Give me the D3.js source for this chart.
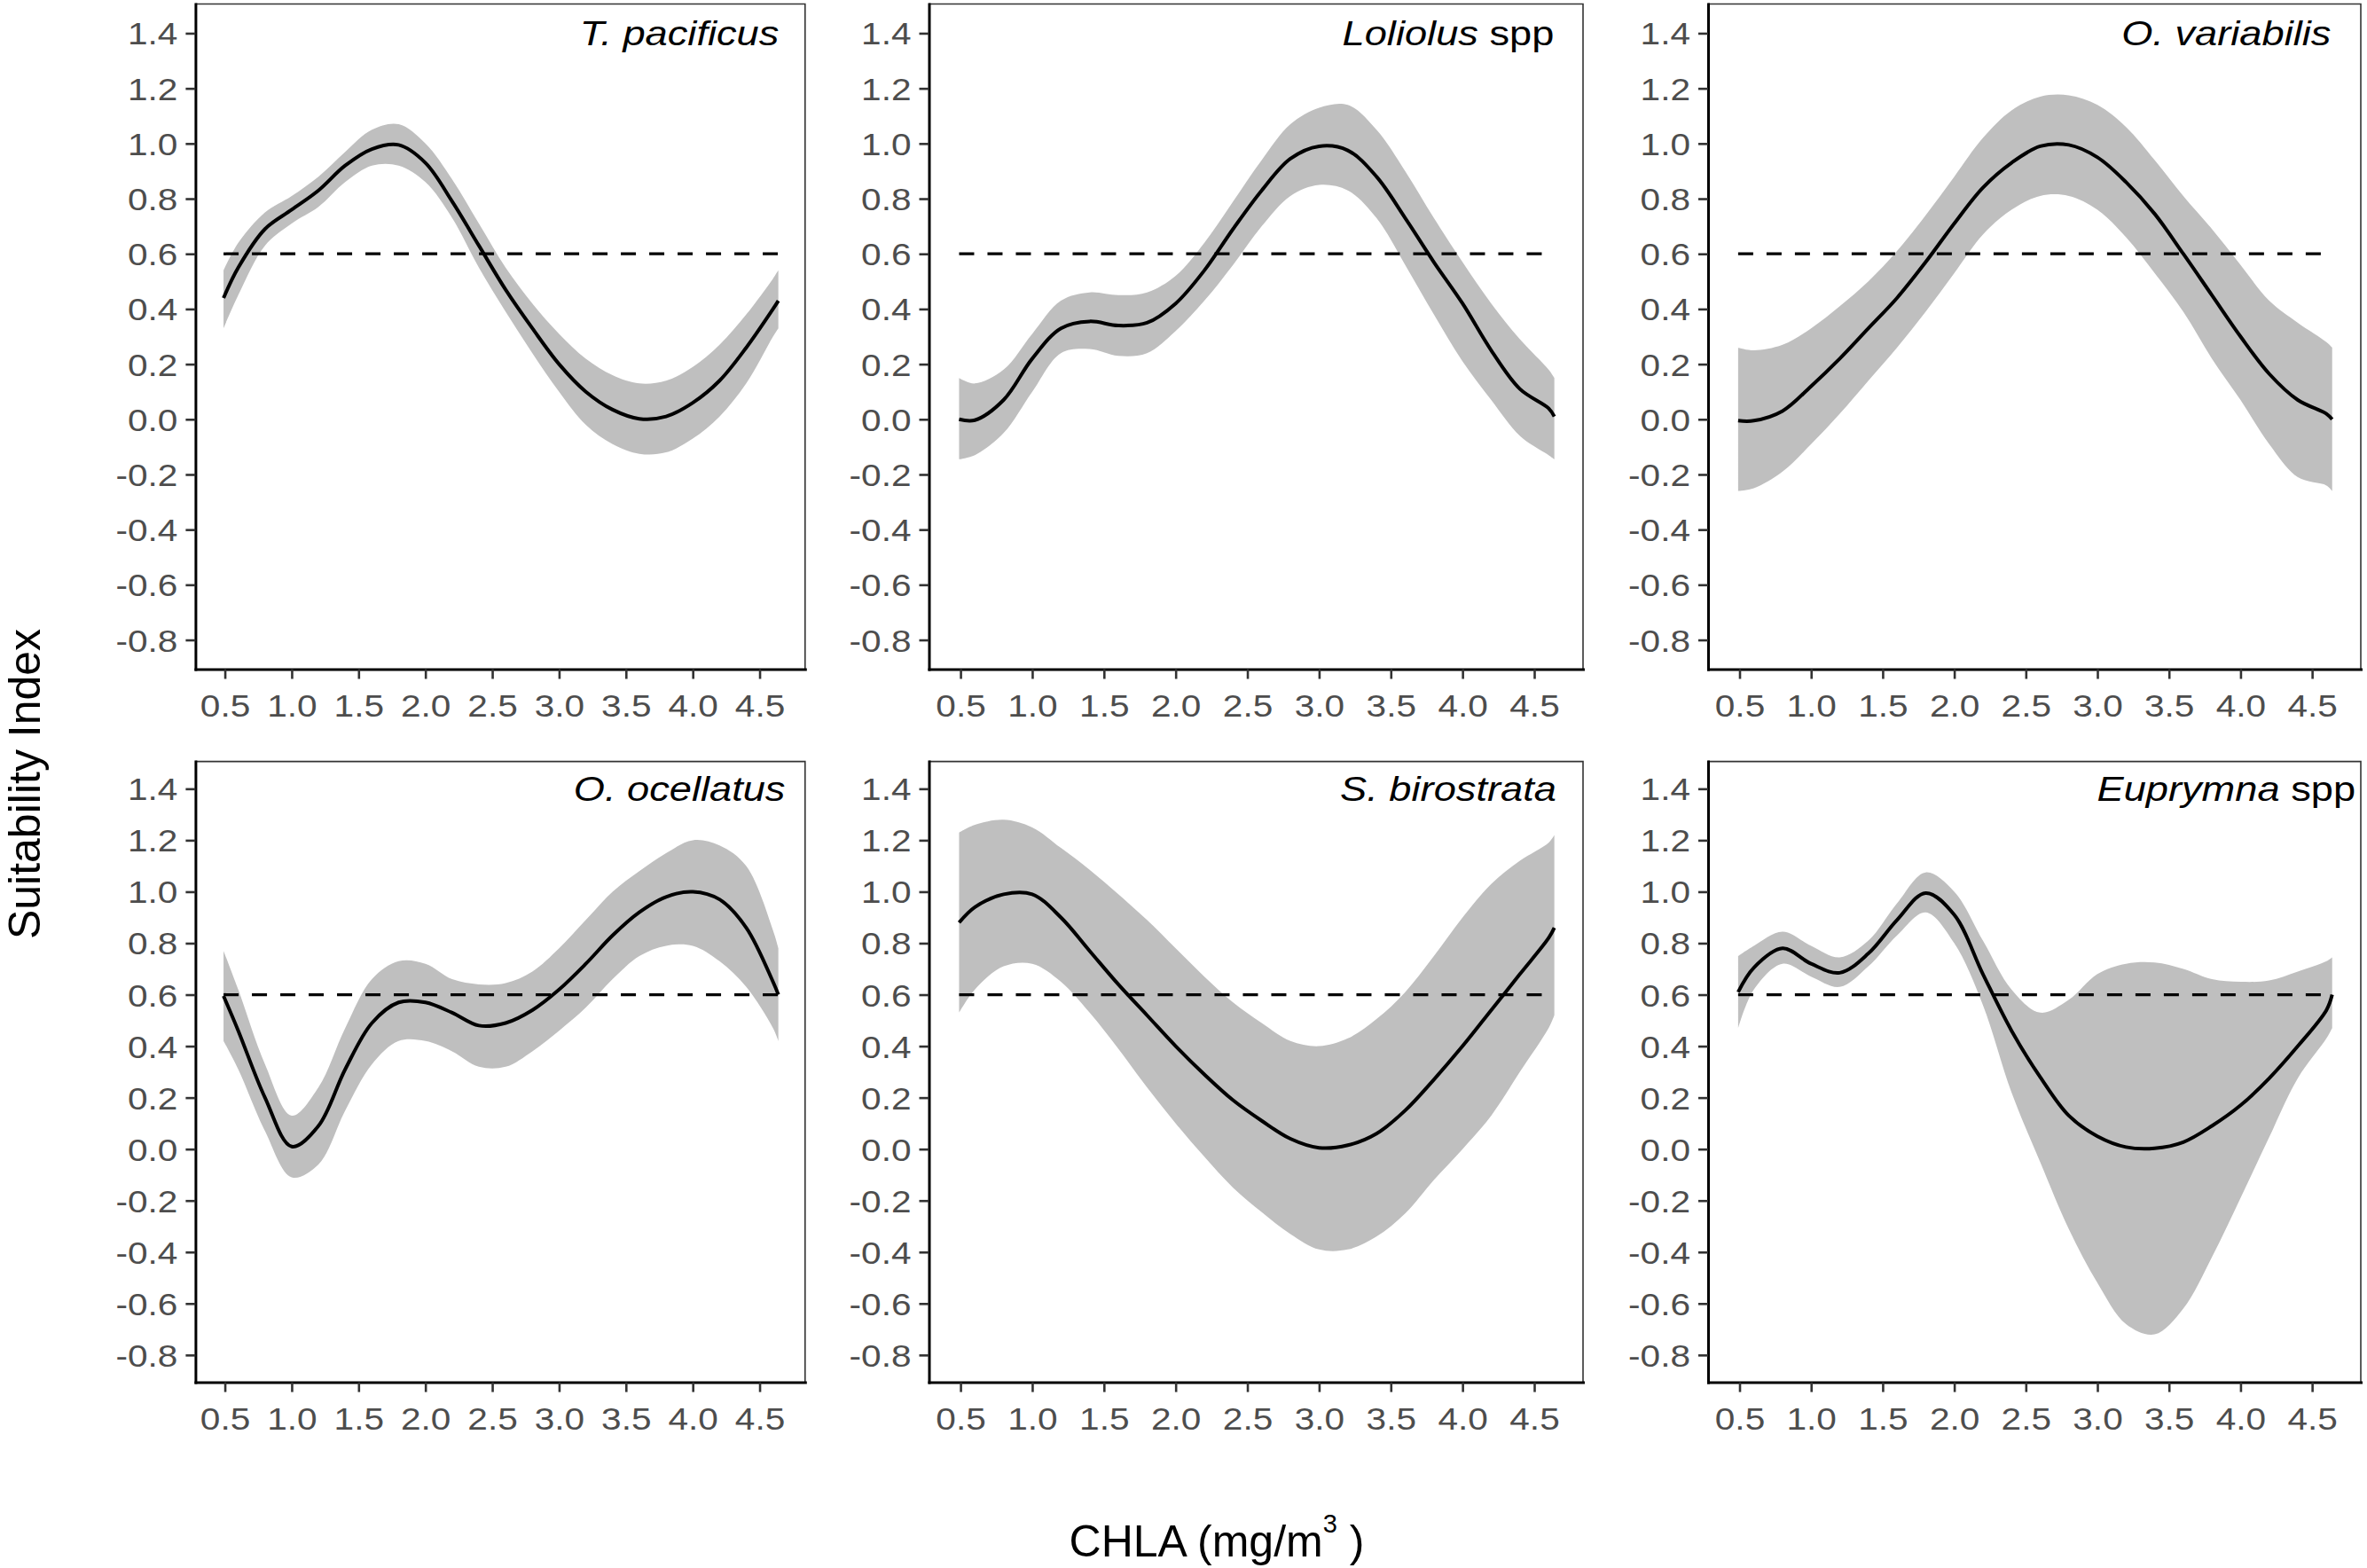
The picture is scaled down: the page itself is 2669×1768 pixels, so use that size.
<!DOCTYPE html>
<html>
<head>
<meta charset="utf-8">
<script src="https://cdn.jsdelivr.net/npm/d3@7"></script>
<style>
  body { margin: 0; background: #fff; }
  svg { display: block; }
  text { font-family: "Liberation Sans", Arial, sans-serif; }
</style>
</head>
<body>
<svg id="chart" width="2669" height="1768"></svg>
<script>
// CHLA values the curves were read at (mg/m3)
const chla = [0.49, 0.6, 0.8, 1.0, 1.2, 1.4, 1.6, 1.8, 2.0, 2.2, 2.4, 2.6, 2.8, 3.0, 3.2, 3.4, 3.6, 3.8, 4.0, 4.2, 4.4, 4.6, 4.64];

const xTicks = [0.5, 1.0, 1.5, 2.0, 2.5, 3.0, 3.5, 4.0, 4.5];
const yTicks = [-0.8, -0.6, -0.4, -0.2, 0.0, 0.2, 0.4, 0.6, 0.8, 1.0, 1.2, 1.4];
const threshold = 0.6;

// species name: [italic part, plain part]
const speciesNames = [
  ["T. pacificus", ""],
  ["Loliolus", " spp"],
  ["O. variabilis", ""],
  ["O. ocellatus", ""],
  ["S. birostrata", ""],
  ["Euprymna", " spp"]
];

// T. pacificus
const fitTP = [0.44, 0.55, 0.69, 0.76, 0.83, 0.92, 0.98, 0.995, 0.93, 0.79, 0.63, 0.47, 0.33, 0.20, 0.10, 0.035, 0.002, 0.01, 0.06, 0.14, 0.26, 0.40, 0.43];
const upTP  = [0.54, 0.64, 0.75, 0.81, 0.88, 0.97, 1.05, 1.07, 1.00, 0.87, 0.71, 0.55, 0.42, 0.31, 0.22, 0.16, 0.13, 0.14, 0.19, 0.27, 0.38, 0.51, 0.54];
const loTP  = [0.33, 0.45, 0.63, 0.71, 0.77, 0.86, 0.92, 0.92, 0.86, 0.73, 0.55, 0.39, 0.24, 0.10, -0.02, -0.09, -0.125, -0.12, -0.07, 0.01, 0.13, 0.30, 0.33];

// Loliolus spp
const fitLS = [0.0, -0.003, 0.07, 0.22, 0.33, 0.355, 0.34, 0.35, 0.42, 0.54, 0.69, 0.83, 0.945, 0.99, 0.975, 0.88, 0.73, 0.57, 0.42, 0.25, 0.11, 0.04, 0.01];
const upLS  = [0.15, 0.13, 0.18, 0.31, 0.43, 0.46, 0.45, 0.46, 0.52, 0.64, 0.79, 0.94, 1.07, 1.13, 1.14, 1.05, 0.90, 0.73, 0.57, 0.42, 0.29, 0.18, 0.15];
const loLS  = [-0.145, -0.13, -0.05, 0.10, 0.24, 0.255, 0.23, 0.24, 0.32, 0.43, 0.56, 0.70, 0.81, 0.85, 0.83, 0.73, 0.56, 0.38, 0.21, 0.07, -0.06, -0.13, -0.145];

// O. variabilis
const fitOV = [-0.005, -0.005, 0.03, 0.12, 0.22, 0.33, 0.44, 0.57, 0.71, 0.84, 0.93, 0.99, 0.995, 0.95, 0.86, 0.745, 0.60, 0.45, 0.30, 0.165, 0.07, 0.02, 0.0];
const upOV  = [0.26, 0.25, 0.27, 0.33, 0.41, 0.50, 0.61, 0.74, 0.88, 1.02, 1.12, 1.17, 1.175, 1.14, 1.06, 0.94, 0.81, 0.69, 0.56, 0.43, 0.35, 0.28, 0.26];
const loOV  = [-0.26, -0.25, -0.19, -0.09, 0.02, 0.14, 0.26, 0.39, 0.53, 0.67, 0.76, 0.81, 0.81, 0.76, 0.66, 0.53, 0.39, 0.22, 0.07, -0.09, -0.21, -0.24, -0.26];

// O. ocellatus
const fitOO = [0.595, 0.46, 0.20, 0.01, 0.09, 0.31, 0.49, 0.57, 0.57, 0.53, 0.48, 0.49, 0.54, 0.62, 0.72, 0.83, 0.92, 0.98, 1.0, 0.97, 0.86, 0.65, 0.60];
const upOO  = [0.77, 0.62, 0.33, 0.13, 0.24, 0.47, 0.66, 0.73, 0.72, 0.66, 0.64, 0.645, 0.69, 0.78, 0.89, 1.00, 1.08, 1.15, 1.20, 1.18, 1.10, 0.85, 0.78];
const loOO  = [0.42, 0.31, 0.07, -0.11, -0.06, 0.15, 0.33, 0.42, 0.42, 0.38, 0.32, 0.32, 0.38, 0.46, 0.55, 0.66, 0.75, 0.79, 0.79, 0.73, 0.63, 0.47, 0.42];

// S. birostrata
const fitSB = [0.88, 0.94, 0.99, 0.99, 0.90, 0.77, 0.64, 0.52, 0.40, 0.29, 0.19, 0.11, 0.04, 0.005, 0.015, 0.06, 0.15, 0.27, 0.40, 0.54, 0.68, 0.82, 0.86];
const upSB  = [1.23, 1.26, 1.28, 1.25, 1.17, 1.085, 0.99, 0.89, 0.78, 0.67, 0.57, 0.49, 0.42, 0.40, 0.43, 0.505, 0.61, 0.75, 0.90, 1.03, 1.12, 1.19, 1.22];
const loSB  = [0.53, 0.62, 0.71, 0.72, 0.65, 0.53, 0.39, 0.24, 0.10, -0.03, -0.15, -0.245, -0.33, -0.39, -0.39, -0.34, -0.25, -0.12, 0.0, 0.13, 0.30, 0.47, 0.52];

// Euprymna spp
const fitES = [0.61, 0.705, 0.78, 0.72, 0.685, 0.76, 0.89, 0.995, 0.91, 0.68, 0.46, 0.28, 0.13, 0.05, 0.008, 0.003, 0.027, 0.09, 0.17, 0.275, 0.40, 0.54, 0.60];
const upES  = [0.75, 0.79, 0.845, 0.79, 0.745, 0.81, 0.955, 1.075, 1.0, 0.81, 0.62, 0.53, 0.58, 0.68, 0.72, 0.725, 0.70, 0.66, 0.65, 0.655, 0.69, 0.73, 0.745];
const loES  = [0.47, 0.62, 0.72, 0.67, 0.63, 0.71, 0.83, 0.92, 0.80, 0.56, 0.22, -0.05, -0.31, -0.52, -0.68, -0.72, -0.62, -0.42, -0.19, 0.046, 0.275, 0.43, 0.47];

const fits   = [fitTP, fitLS, fitOV, fitOO, fitSB, fitES];
const uppers = [upTP, upLS, upOV, upOO, upSB, upES];
const lowers = [loTP, loLS, loOV, loOO, loSB, loES];

// layout (pixels)
const cols = [[220.4, 907.8], [1047.5, 1785], [1926, 2662]];
const rows = [[4.5, 754.5], [858.6, 1558.6]];
const xDomain = [0.28, 4.84];
const yDomain = [-0.906, 1.506];
const stretch = 1.16;   // panel text in the original is a little wide

const svg = d3.select("#chart");

for (let i = 0; i < 6; i++) {
    const c = cols[i % 3], r = rows[Math.floor(i / 3)];
    const x = d3.scaleLinear().domain(xDomain).range(c);
    const y = d3.scaleLinear().domain(yDomain).range([r[1], r[0]]);
    const g = svg.append("g");
    const curve = d3.curveCatmullRom.alpha(0.5);

    // confidence band
    g.append("path")
        .datum(chla)
        .attr("fill", "#bfbfbf")
        .attr("d", d3.area()
            .x(d => x(d))
            .y0((d, j) => y(lowers[i][j]))
            .y1((d, j) => y(uppers[i][j]))
            .curve(curve));

    // 0.6 threshold
    g.append("line")
        .attr("x1", x(chla[0])).attr("x2", x(chla[chla.length - 1]))
        .attr("y1", y(threshold)).attr("y2", y(threshold))
        .attr("stroke", "#000").attr("stroke-width", 3.3)
        .attr("stroke-dasharray", "17,15");

    // fitted curve
    g.append("path")
        .datum(chla)
        .attr("fill", "none")
        .attr("stroke", "#000")
        .attr("stroke-width", 4)
        .attr("stroke-linejoin", "round")
        .attr("d", d3.line()
            .x(d => x(d))
            .y((d, j) => y(fits[i][j]))
            .curve(curve));

    // top and right border
    g.append("path")
        .attr("d", `M${c[0]},${r[0]}H${c[1]}V${r[1]}`)
        .attr("fill", "none").attr("stroke", "#333").attr("stroke-width", 1.6);

    // y axis
    const ya = g.append("g")
        .attr("transform", `translate(${c[0]},0)`)
        .call(d3.axisLeft(y).tickValues(yTicks).tickSize(11).tickSizeOuter(0)
            .tickFormat(d => d.toFixed(1)));
    // x axis
    const xa = g.append("g")
        .attr("transform", `translate(0,${r[1]})`)
        .call(d3.axisBottom(x).tickValues(xTicks).tickSize(11).tickSizeOuter(0)
            .tickFormat(d => d.toFixed(1)));

    [ya, xa].forEach(a => {
        a.select(".domain").attr("stroke", "#000").attr("stroke-width", 3)
            .attr("stroke-linecap", "square");
        a.selectAll(".tick line").attr("stroke", "#333").attr("stroke-width", 2.6);
        a.selectAll(".tick text")
            .attr("fill", "#4d4d4d")
            .attr("font-size", 35)
            .attr("font-family", "Liberation Sans, Arial, sans-serif");
    });
    ya.selectAll(".tick text")
        .attr("x", null).attr("dy", null)
        .attr("transform", `translate(-20,12.5) scale(${stretch},1)`);
    xa.selectAll(".tick text")
        .attr("y", null).attr("dy", null)
        .attr("transform", `translate(0,53) scale(${stretch},1)`);

    // species label
    const lab = g.append("text")
        .attr("transform", `translate(${x(3.9)},${y(1.4) + 13.5}) scale(${stretch},1)`)
        .attr("text-anchor", "middle")
        .attr("font-size", 39)
        .attr("fill", "#000");
    lab.append("tspan").attr("font-style", "italic").text(speciesNames[i][0]);
    if (speciesNames[i][1]) lab.append("tspan").text(speciesNames[i][1]);
}

// shared axis titles
svg.append("text")
    .attr("transform", "translate(45,884) rotate(-90)")
    .attr("text-anchor", "middle")
    .attr("font-size", 50)
    .attr("fill", "#000")
    .text("Suitability Index");

const xt = svg.append("text")
    .attr("x", 1372).attr("y", 1755)
    .attr("text-anchor", "middle")
    .attr("font-size", 50)
    .attr("fill", "#000");
xt.append("tspan").text("CHLA (mg/m");
xt.append("tspan").attr("font-size", 29).attr("dy", -27).text("3");
xt.append("tspan").attr("dy", 27).text(" )");
</script>
</body>
</html>
